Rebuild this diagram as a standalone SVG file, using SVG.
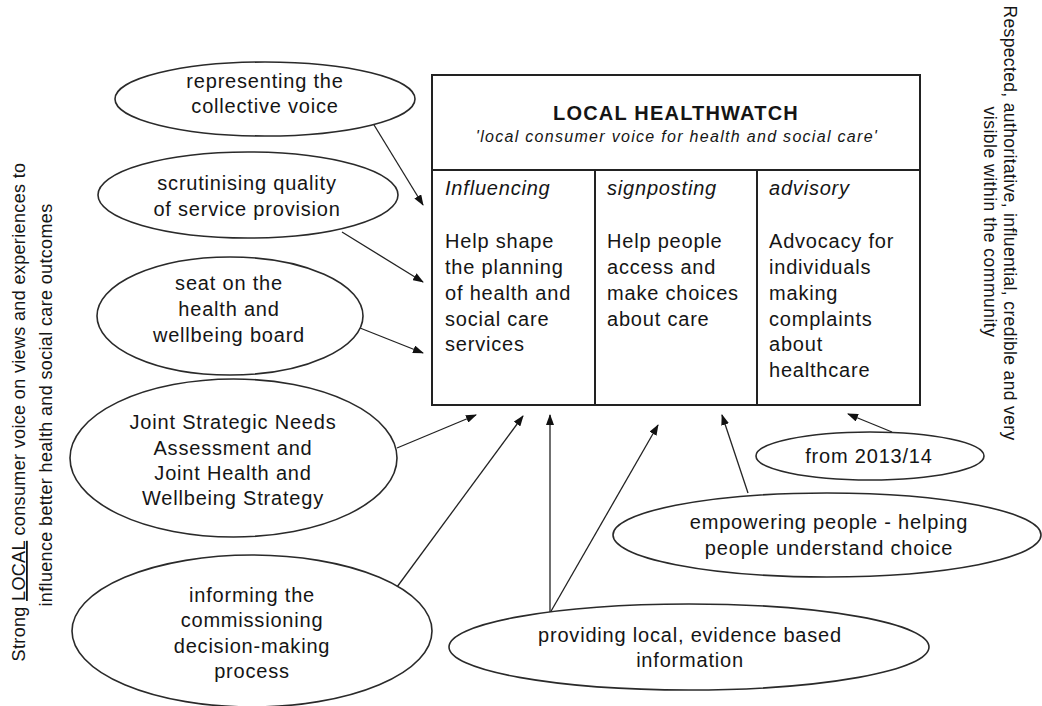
<svg xmlns="http://www.w3.org/2000/svg" width="1042" height="706" viewBox="0 0 1042 706">
<defs>
<style>
.t{font-family:"Liberation Sans",Arial,sans-serif;font-size:20px;letter-spacing:0.8px;fill:#151515}
.c{text-anchor:middle}
.i{font-style:italic}
.e{fill:#fff;stroke:#2a2a2a;stroke-width:1.6}
.b{fill:none;stroke:#222;stroke-width:2}
.a{fill:none;stroke:#222;stroke-width:1.3;marker-end:url(#ah)}
.r{font-family:"Liberation Sans",Arial,sans-serif;font-size:17.5px;fill:#151515;text-anchor:middle}
</style>
<marker id="ah" markerUnits="userSpaceOnUse" markerWidth="11" markerHeight="8" refX="10" refY="4" orient="auto">
<path d="M0,0 L11,4 L0,8 z" fill="#111"/>
</marker>
</defs>
<rect width="1042" height="706" fill="#fff"/>

<g id="side-left">
<text class="r" transform="translate(25,412) rotate(-90)" style="letter-spacing:0.35px;font-size:18px">Strong <tspan text-decoration="underline">LOCAL</tspan> consumer voice on views and experiences to</text>
<text class="r" transform="translate(52,405) rotate(-90)" style="letter-spacing:0.35px;font-size:18px">influence better health and social care outcomes</text>
</g>
<g id="side-right">
<text class="r" transform="translate(1004,223) rotate(90)" style="letter-spacing:0.35px">Respected, authoritative, influential, credible and very</text>
<text class="r" transform="translate(984,222) rotate(90)" style="letter-spacing:0.5px">visible within the community</text>
</g>

<g id="healthwatch">
<rect class="b" x="432" y="75" width="488" height="330"/>
<line class="b" x1="432" y1="170" x2="920" y2="170"/>
<line class="b" x1="595" y1="170" x2="595" y2="405"/>
<line class="b" x1="757" y1="170" x2="757" y2="405"/>
<text class="t c" x="676" y="120" style="font-weight:bold;letter-spacing:1.2px">LOCAL HEALTHWATCH</text>
<text class="t c i" x="677" y="142" style="font-size:16px;letter-spacing:1.3px">'local consumer voice for health and social care'</text>
</g>

<g id="col-influencing">
<text class="t i" x="445" y="195">Influencing</text>
<text class="t" x="445" y="248">Help shape</text>
<text class="t" x="445" y="274">the planning</text>
<text class="t" x="445" y="300">of health and</text>
<text class="t" x="445" y="326">social care</text>
<text class="t" x="445" y="351">services</text>
</g>
<g id="col-signposting">
<text class="t i" x="607" y="195">signposting</text>
<text class="t" x="607" y="248">Help people</text>
<text class="t" x="607" y="274">access and</text>
<text class="t" x="607" y="300">make choices</text>
<text class="t" x="607" y="326">about care</text>
</g>
<g id="col-advisory">
<text class="t i" x="769" y="195">advisory</text>
<text class="t" x="769" y="248">Advocacy for</text>
<text class="t" x="769" y="274">individuals</text>
<text class="t" x="769" y="300">making</text>
<text class="t" x="769" y="326">complaints</text>
<text class="t" x="769" y="351">about</text>
<text class="t" x="769" y="377">healthcare</text>
</g>

<g id="connectors">
<line class="a" x1="371" y1="120" x2="423" y2="205"/>
<line class="a" x1="342" y1="232" x2="423" y2="282"/>
<line class="a" x1="360" y1="328" x2="423" y2="353"/>
<line class="a" x1="397" y1="448" x2="476" y2="415"/>
<line class="a" x1="397" y1="587" x2="523" y2="416"/>
<line class="a" x1="550" y1="613" x2="550" y2="415"/>
<line class="a" x1="550" y1="613" x2="658" y2="425"/>
<line class="a" x1="748" y1="493" x2="722" y2="415"/>
<line class="a" x1="892" y1="432" x2="848" y2="414"/>
</g>

<g id="n-collective">
<ellipse class="e" cx="265" cy="99" rx="150" ry="37"/>
<text class="t c" x="265" y="88">representing the</text>
<text class="t c" x="265" y="113">collective voice</text>
</g>
<g id="n-scrutinising">
<ellipse class="e" cx="248" cy="195" rx="150" ry="43"/>
<text class="t c" x="247" y="190">scrutinising quality</text>
<text class="t c" x="247" y="216">of service provision</text>
</g>
<g id="n-seat">
<ellipse class="e" cx="230" cy="316" rx="133" ry="59"/>
<text class="t c" x="229" y="290">seat on the</text>
<text class="t c" x="229" y="316">health and</text>
<text class="t c" x="229" y="342">wellbeing board</text>
</g>
<g id="n-jsna">
<ellipse class="e" cx="233.5" cy="458" rx="163.5" ry="79"/>
<text class="t c" x="233" y="429">Joint Strategic Needs</text>
<text class="t c" x="233" y="455">Assessment and</text>
<text class="t c" x="233" y="480">Joint Health and</text>
<text class="t c" x="233" y="505">Wellbeing Strategy</text>
</g>
<g id="n-commissioning">
<ellipse class="e" cx="252" cy="631" rx="180" ry="76"/>
<text class="t c" x="252" y="602">informing the</text>
<text class="t c" x="252" y="627">commissioning</text>
<text class="t c" x="252" y="653">decision-making</text>
<text class="t c" x="252" y="678">process</text>
</g>
<g id="n-providing">
<ellipse class="e" cx="689" cy="647" rx="240" ry="43"/>
<text class="t c" x="690" y="642">providing local, evidence based</text>
<text class="t c" x="690" y="667">information</text>
</g>
<g id="n-empowering">
<ellipse class="e" cx="827" cy="535" rx="214" ry="42"/>
<text class="t c" x="829" y="529">empowering people - helping</text>
<text class="t c" x="829" y="555">people understand choice</text>
</g>
<g id="n-from">
<ellipse class="e" cx="870" cy="456" rx="114" ry="24"/>
<text class="t c" x="869" y="463">from 2013/14</text>
</g>
</svg>
